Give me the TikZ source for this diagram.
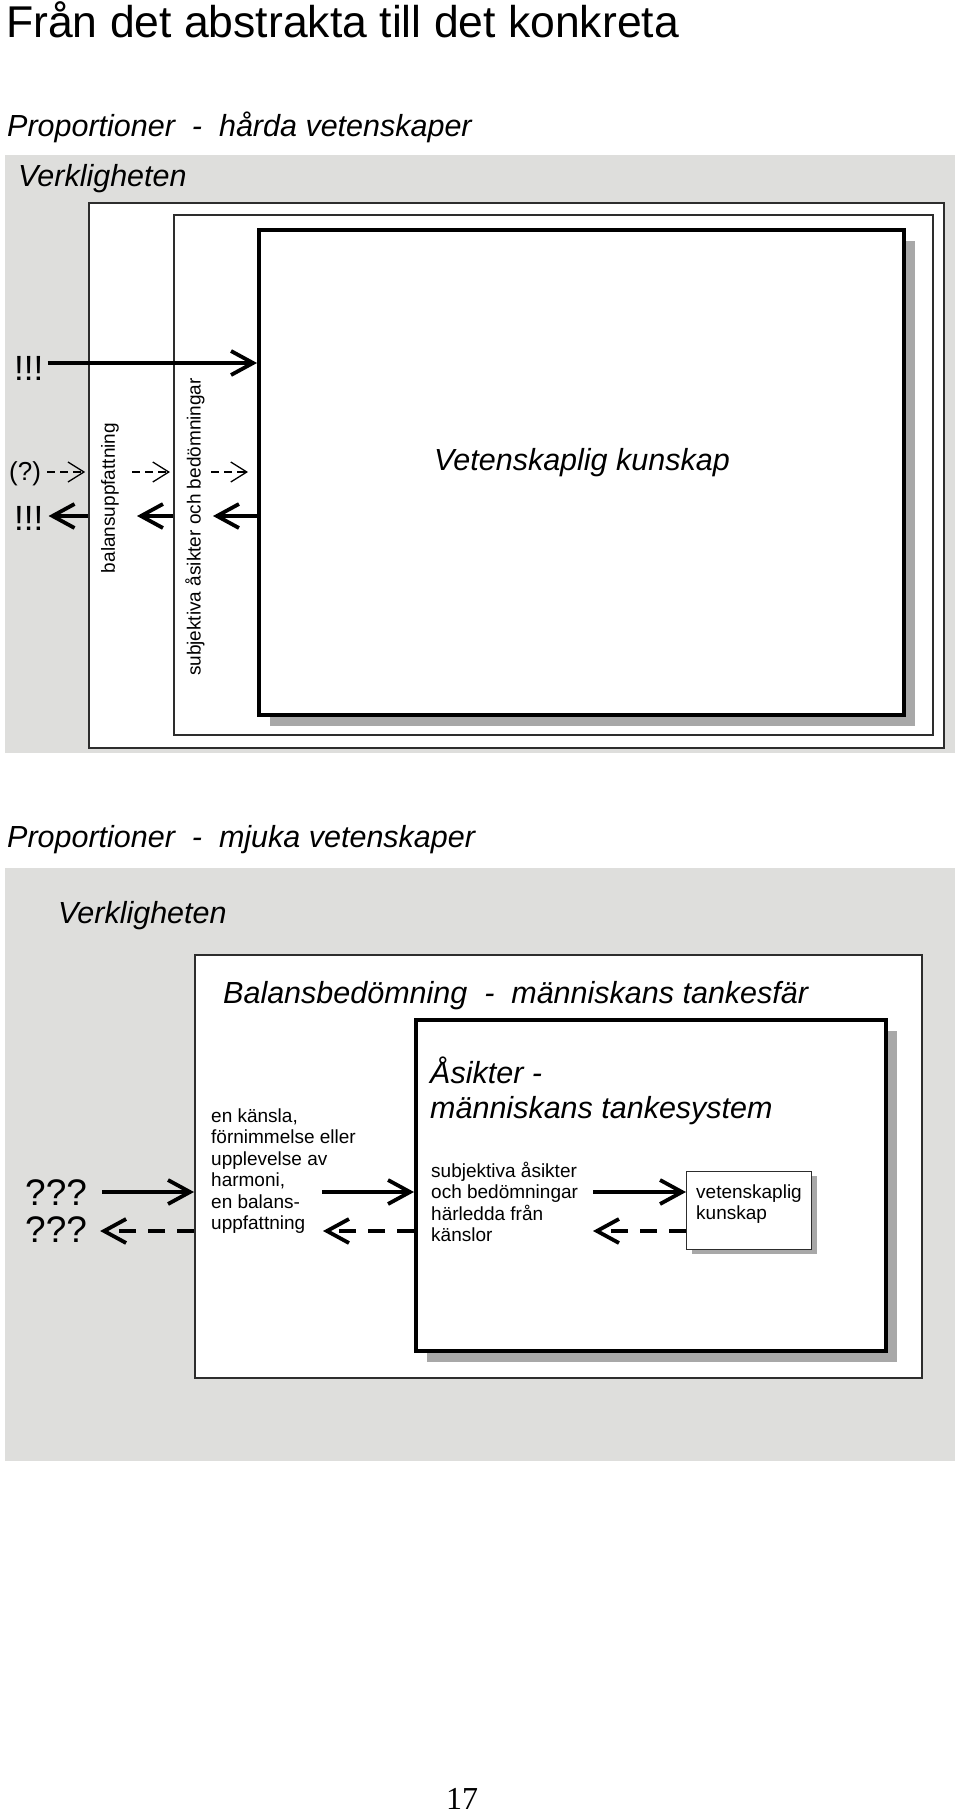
\documentclass[tikz,border=0pt]{standalone}
\usepackage{fontspec}
\setmainfont{Liberation Sans}
\newfontfamily\sidfont{Liberation Serif}
\usetikzlibrary{arrows.meta,shadows}
\definecolor{verkgra}{RGB}{222,222,220}
\definecolor{skugga}{RGB}{168,168,168}
\definecolor{ramlinje}{RGB}{45,45,45}
\tikzset{
  panel/.style={fill=verkgra, anchor=north west, inner sep=0},
  ram/.style={draw=ramlinje, line width=1.6pt, fill=white, anchor=north west, inner sep=0},
  tjockram/.style={draw=black, line width=4pt, fill=white, anchor=north west, inner sep=0,
    drop shadow={shadow xshift=11pt, shadow yshift=-11pt, fill=skugga, opacity=1}},
  rubrik/.style={font=\fontsize{30.5}{36}\selectfont\itshape, inner sep=0, anchor=base west},
  brodtext/.style={font=\fontsize{19}{22}\selectfont, inner sep=0, anchor=base west},
  tecken/.style={inner sep=0, anchor=base west},
  pil/.style={line width=3.8pt, -{Straight Barb[length=22pt,width=24pt]}},
  streckpil/.style={pil, dash pattern=on 17pt off 12pt},
  tunnpil/.style={line width=1.3pt, dash pattern=on 8pt off 5pt, -{Straight Barb[length=16pt,width=20pt]}}
}
\begin{document}
\begin{tikzpicture}[x=1pt, y=-1pt]
        \fill[white] (0,0) rectangle (960,1819);
        \useasboundingbox (0,0) rectangle (960,1819);
        % Rubriker
        \node[font=\fontsize{44.5}{50}\selectfont, tecken] (titel) at (6,38) {Från det abstrakta till det konkreta};
        \node[rubrik] (prop1) at (7,137) {Proportioner\ \ -\ \ hårda vetenskaper};
        % Hårda vetenskaper
        \node[panel, minimum width=950pt, minimum height=598pt] (verk1) at (5,155) {};
        \node[rubrik] (verktext1) at (18,187) {Verkligheten};
        \node[ram, minimum width=855pt, minimum height=545pt] (ram1) at (88,202) {};
        \node[ram, minimum width=759pt, minimum height=520pt] (ram2) at (173,214) {};
        \node[tjockram, minimum width=645pt, minimum height=485pt] (vet) at (257,228) {};
        \node[rubrik] (vettext) at (434,470) {Vetenskaplig kunskap};
        \node[brodtext, anchor=center, rotate=90] (balupp) at (110,498) {balansuppfattning};
        \node[brodtext, anchor=center, rotate=90] (subj) at (195,527) {subjektiva åsikter och bedömningar};
        \node[font=\fontsize{35}{40}\selectfont, tecken] (utrop1) at (14,380) {!!!};
        \node[font=\fontsize{26}{30}\selectfont, tecken] (fraga) at (9,480) {(?)};
        \node[font=\fontsize{35}{40}\selectfont, tecken] (utrop2) at (14,530) {!!!};
        % Pilar, övre delen
        \coordinate (rad1) at (0,363);
        \coordinate (rad2) at (0,472);
        \coordinate (rad3) at (0,516);
        \draw[pil, shorten <=4pt] (utrop1.east |- rad1) -- (vet.west |- rad1);
        \draw[tunnpil] (fraga.east |- rad2) ++(6,0) -- ++(38,0);
        \draw[tunnpil] (ram1.west |- rad2) ++(44,0) -- ++(38,0);
        \draw[tunnpil] (ram2.west |- rad2) ++(38,0) -- ++(37,0);
        \draw[pil, shorten >=5pt] (ram1.west |- rad3) -- (utrop2.east |- rad3);
        \draw[pil] (ram2.west |- rad3) -- ++(-36,0);
        \draw[pil] (vet.west |- rad3) -- ++(-44,0);
        % Mjuka vetenskaper
        \node[rubrik] (prop2) at (7,847) {Proportioner\ \ -\ \ mjuka vetenskaper};
        \node[panel, minimum width=950pt, minimum height=593pt] (verk2) at (5,868) {};
        \node[rubrik] (verktext2) at (58,923) {Verkligheten};
        \node[ram, minimum width=727pt, minimum height=423pt] (balans) at (194,954) {};
        \node[rubrik] (balanstext) at (223,1003) {Balansbedömning\ \ -\ \ människans tankesfär};
        \node[tjockram, minimum width=470pt, minimum height=331pt] (asikt) at (414,1018) {};
        \node[rubrik] (asikt1) at (430,1083) {Åsikter -};
        \node[rubrik] (asikt2) at (430,1118) {människans tankesystem};
        \node[ram, line width=1.3pt, minimum width=125pt, minimum height=78pt,
              drop shadow={shadow xshift=5pt, shadow yshift=-4pt, fill=skugga, opacity=1}] (vk) at (686,1171) {};
        \foreach \rad [count=\i] in {{en känsla,},{förnimmelse eller},{upplevelse av},{harmoni,},{en balans-},{uppfattning}}
          \node[brodtext] (kansla\i) at (211,1100.5+21.5*\i) {\rad};
        \foreach \rad [count=\i] in {{subjektiva åsikter},{och bedömningar},{härledda från},{känslor}}
          \node[brodtext] (subjrad\i) at (431,1155.5+21.5*\i) {\rad};
        \foreach \rad [count=\i] in {vetenskaplig,kunskap}
          \node[brodtext] (vkrad\i) at (696,1176.5+21.5*\i) {\rad};
        \node[font=\fontsize{37}{42}\selectfont, tecken] (fraga1) at (25,1205) {???};
        \node[font=\fontsize{37}{42}\selectfont, tecken] (fraga2) at (25,1242) {???};
        % Pilar, nedre delen
        \coordinate (rad4) at (0,1192);
        \coordinate (rad5) at (0,1231);
        \draw[pil, shorten <=15pt] (fraga1.east |- rad4) -- (balans.west |- rad4);
        \draw[streckpil, shorten >=13pt] (balans.west |- rad5) -- (fraga2.east |- rad5);
        \draw[pil] (asikt.west |- rad4) ++(-92,0) -- (asikt.west |- rad4);
        \draw[streckpil] (asikt.west |- rad5) -- ++(-91,0);
        \draw[pil] (vk.west |- rad4) ++(-93,0) -- (vk.west |- rad4);
        \draw[streckpil] (vk.west |- rad5) -- ++(-93,0);
        % Sidnummer
        \node[font=\sidfont\fontsize{32}{36}\selectfont, inner sep=0, anchor=base] (sida) at (462,1809) {17};
\end{tikzpicture}
\end{document}
